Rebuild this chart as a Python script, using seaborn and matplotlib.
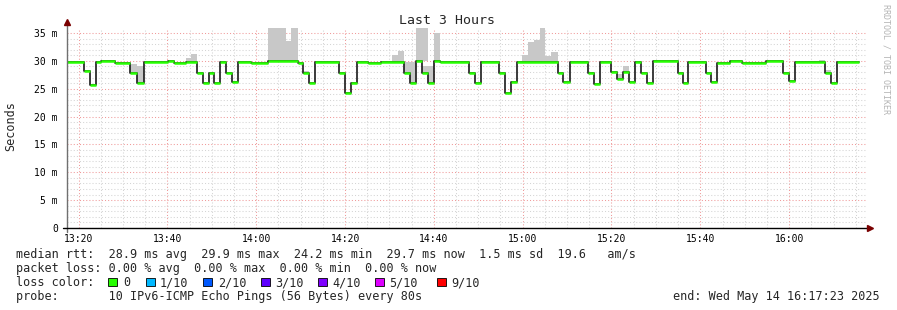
import numpy as np
import pandas as pd
import matplotlib
matplotlib.use("Agg")
import matplotlib.pyplot as plt
import seaborn as sns
from matplotlib.patches import Rectangle

# ---------------- data (minutes after 13:00) ----------------
med_t = [17.46, 21.13, 22.63, 23.98, 25.11, 28.10, 31.64, 33.12, 34.63, 40.10,
         41.38, 44.08, 46.71, 48.06, 49.25, 50.38, 51.79, 53.23, 54.49, 55.84,
         58.86, 62.59, 69.34, 70.63, 71.91, 73.26, 78.73, 80.01, 81.36, 82.71,
         85.13, 88.14, 93.36, 94.64, 95.99, 97.25, 98.60, 99.95, 101.39, 107.83,
         109.27, 110.62, 114.73, 116.02, 117.37, 118.72, 127.86, 129.14, 130.65, 134.61,
         135.96, 137.40, 139.88, 141.23, 142.65, 143.93, 145.28, 146.63, 147.89, 149.24,
         154.87, 156.08, 157.28, 161.26, 162.52, 163.87, 166.72, 169.49, 174.75, 178.65,
         179.93, 181.28, 188.03, 189.38, 190.73]
med_end = 195.82
med_v = [29.75, 28.2, 25.7, 29.8, 29.9, 29.7, 27.8, 26.1, 29.8, 29.9,
         29.7, 29.8, 27.8, 26.1, 27.9, 26.1, 29.8, 27.8, 26.2, 29.8,
         29.7, 29.9, 29.7, 27.8, 26.0, 29.8, 27.8, 24.2, 26.1, 29.8,
         29.7, 29.8, 27.9, 26.1, 29.9, 27.9, 26.1, 29.9, 29.8, 27.9,
         26.1, 29.8, 27.8, 24.2, 26.2, 29.8, 27.9, 26.2, 29.8, 27.8,
         25.8, 29.8, 28.0, 26.7, 28.0, 26.2, 29.8, 27.9, 26.1, 29.9,
         27.9, 26.1, 29.8, 27.9, 26.2, 29.7, 29.9, 29.7, 29.9, 27.8,
         26.3, 29.8, 27.9, 26.1, 29.8]

smoke_start = [31.64, 33.12, 44.08, 45.36, 62.59, 66.73, 67.85, 70.63, 90.66, 92.01,
               93.36, 94.64, 95.99, 97.25, 97.25, 98.60, 99.95, 119.90, 121.16, 122.44,
               123.79, 125.14, 126.42, 141.23, 142.65, 186.74, 188.03]
smoke_end = [33.12, 34.63, 45.36, 46.71, 66.73, 67.85, 69.34, 71.91, 92.01, 93.36,
             94.64, 95.99, 97.25, 98.60, 98.60, 99.95, 101.39, 121.16, 122.44, 123.79,
             125.14, 126.42, 127.86, 142.65, 143.93, 188.03, 189.38]
smoke_lo = [27.8, 26.1, 29.8, 29.8, 29.9, 29.9, 29.9, 27.8, 29.8, 29.8,
            27.9, 26.1, 29.9, 27.9, 29.9, 26.1, 29.9, 29.8, 29.8, 29.8,
            29.8, 29.8, 29.8, 26.7, 28.0, 29.8, 27.9]
smoke_hi = [29.4, 29.0, 30.5, 31.2, 36.5, 33.6, 36.5, 28.1, 31.05, 31.8,
            29.8, 29.8, 36.5, 29.0, 36.5, 29.0, 35.0, 31.05, 33.4, 33.7,
            36.5, 30.9, 31.6, 27.6, 29.1, 30.1, 28.3]

x_ticks = [20, 40, 60, 80, 100, 120, 140, 160, 180]
x_labels = ["13:20", "13:40", "14:00", "14:20", "14:40", "15:00", "15:20", "15:40", "16:00"]
y_ticks = [0, 5, 10, 15, 20, 25, 30, 35]
y_labels = ["0", "5 m", "10 m", "15 m", "20 m", "25 m", "30 m", "35 m"]

loss_labels = ["0", "1/10", "2/10", "3/10", "4/10", "5/10", "9/10"]
loss_colors = ["#26ff00", "#00b8ff", "#0059ff", "#5e00ff", "#7e00ff", "#dd00ff", "#ff0000"]

legend_lines = [
    "median rtt:  28.9 ms avg  29.9 ms max  24.2 ms min  29.7 ms now  1.5 ms sd  19.6   am/s",
    "packet loss: 0.00 % avg  0.00 % max  0.00 % min  0.00 % now",
    "loss color:",
    "probe:       10 IPv6-ICMP Echo Pings (56 Bytes) every 80s",
]
end_text = "end: Wed May 14 16:17:23 2025"
title = "Last 3 Hours"

# ---------------- style ----------------
sns.set_style("white")
plt.rcParams["font.family"] = ["DejaVu Sans Mono", "DejaVu Sans"]

W, H = 897, 310
fig = plt.figure(figsize=(W / 100, H / 100), dpi=100)
fig.patch.set_facecolor("white")
x0_px, x1_px, ytop_px, ybot_px = 67, 866.3, 28, 228
ax = fig.add_axes([x0_px / W, 1 - ybot_px / H, (x1_px - x0_px) / W, (ybot_px - ytop_px) / H])
ax.set_facecolor("white")

t0 = 17 + 23 / 60
ax.set_xlim(t0, t0 + 180)
ax.set_ylim(0, 35.9)

# grid
ax.set_xticks(x_ticks)
ax.set_xticklabels(x_labels)
ax.set_xticks(np.arange(20, 197, 5), minor=True)
ax.set_yticks(y_ticks)
ax.set_yticklabels(y_labels)
ax.set_yticks(np.arange(0, 36, 1), minor=True)
ax.set_axisbelow(True)
ax.grid(which="minor", color="#d4d4d4", linestyle=(0, (1, 2)), lw=0.75)
ax.grid(which="major", color="#f09a9a", linestyle=(0, (1, 2)), lw=0.75)

ax.tick_params(axis="both", which="both", colors="#909090", width=0.6, labelcolor="black")
ax.tick_params(axis="y", which="major", length=3, pad=3.5, labelsize=7)
ax.tick_params(axis="y", which="minor", length=3)
ax.tick_params(axis="x", which="major", length=2, pad=2.5, labelsize=7)
ax.tick_params(axis="x", which="minor", length=2)
for s in ax.spines.values():
    s.set_visible(False)

# smoke
sm = pd.DataFrame({"start": smoke_start, "end": smoke_end, "lo": smoke_lo, "hi": smoke_hi})
ax.bar(sm["start"], sm["hi"] - sm["lo"], bottom=sm["lo"], width=sm["end"] - sm["start"],
       align="edge", color="#c8c8c8", linewidth=0, zorder=2)

# median line (black step) + loss-colored segments
md = pd.DataFrame({"t": med_t + [med_end], "v": med_v + [med_v[-1]]})
sns.lineplot(data=md, x="t", y="v", ax=ax, color="#1a1a1a", lw=1.2,
             drawstyle="steps-post", estimator=None, sort=False, zorder=3)
ends = med_t[1:] + [med_end]
ax.hlines(med_v, med_t, ends, color=loss_colors[0], lw=1.8, zorder=4)
ax.set_xlabel("")
ax.set_ylabel("")

# axes lines with arrows
ax.plot([0, 0], [-0.02, 1.03], transform=ax.transAxes, color="#707070", lw=1, clip_on=False, zorder=5)
ax.plot([-0.005, 1.003], [0, 0], transform=ax.transAxes, color="black", lw=1, clip_on=False, zorder=5)
ax.plot([0], [1.03], marker="^", ms=4.5, color="#7a0000", transform=ax.transAxes, clip_on=False, zorder=6)
ax.plot([1.005], [0], marker=">", ms=4.5, color="#7a0000", transform=ax.transAxes, clip_on=False, zorder=6)

# texts
fig.text(447 / W, 1 - 24 / H, title, ha="center", va="baseline", fontsize=9.5)
fig.text(11 / W, 1 - 126 / H, "Seconds", rotation=90, ha="center", va="center", fontsize=8.5)
fig.text(886 / W, 1 - 4 / H, "RRDTOOL / TOBI OETIKER", rotation=270, ha="center", va="top",
         fontsize=6, color="#b4b4b4")

baselines = [258, 272, 286, 300]
for line, b in zip(legend_lines, baselines):
    fig.text(16 / W, 1 - b / H, line, ha="left", va="baseline", fontsize=8.5)
fig.text(880 / W, 1 - 300 / H, end_text, ha="right", va="baseline", fontsize=8.5)

sq_x = [108, 146, 203, 261, 318, 375, 437]
lab_x = [123, 160, 218, 275, 332, 389, 451]
for c, lab, sx, lx in zip(loss_colors, loss_labels, sq_x, lab_x):
    fig.add_artist(Rectangle((sx / W, 1 - 286 / H), 8.5 / W, 8.5 / H, transform=fig.transFigure,
                             facecolor=c, edgecolor="black", lw=0.6))
    fig.text(lx / W, 1 - 286 / H, lab, ha="left", va="baseline", fontsize=8.5)

fig.savefig("out.png", dpi=100)
